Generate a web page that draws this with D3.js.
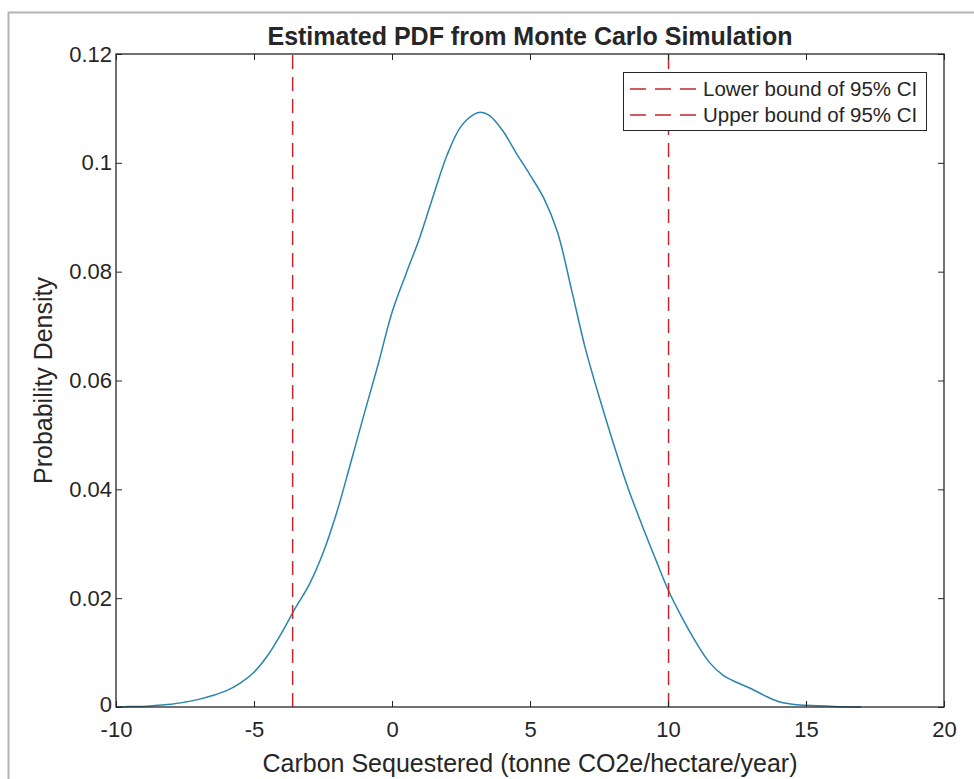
<!DOCTYPE html>
<html>
<head>
<meta charset="utf-8">
<script src="https://cdn.jsdelivr.net/npm/d3@7"></script>
<style>
  body { margin: 0; background: #fff; }
  text { font-family: "Liberation Sans", Arial, sans-serif; fill: #262626; }
</style>
</head>
<body>
<script>
// density estimate
const densityX = [-10, -9.5, -9, -8.5, -8, -7.5, -7, -6.5, -6, -5.5, -5, -4.5, -4, -3.5, -3, -2.5, -2, -1.5, -1, -0.5,
  0, 0.5, 1, 1.5, 2, 2.5, 3, 3.2, 3.5, 4, 4.5, 5, 5.5, 6, 6.5, 7, 7.5, 8, 8.5, 9, 9.5,
  10, 10.5, 11, 11.5, 12, 12.5, 13, 13.5, 14, 14.5, 15, 16, 17];
const densityY = [0, 0.0001, 0.0001, 0.0003, 0.0005, 0.0009, 0.0014, 0.0021, 0.003, 0.0044, 0.0064, 0.0095, 0.0136, 0.0182, 0.0225, 0.0283, 0.0358, 0.0448, 0.054, 0.063,
  0.0725, 0.0795, 0.0862, 0.094, 0.1015, 0.1067, 0.109, 0.1093, 0.1088, 0.106, 0.1018, 0.0978, 0.0935, 0.0872, 0.0768, 0.066, 0.0571, 0.0488, 0.041, 0.0342, 0.0278,
  0.0216, 0.0165, 0.012, 0.0082, 0.0058, 0.0045, 0.0034, 0.0021, 0.001, 0.0005, 0.0003, 0.0001, 0];

// confidence interval bounds
const ciValues = [-3.6, 10.02];
const ciLabels = ["Lower bound of 95% CI", "Upper bound of 95% CI"];

const xTicks = [-10, -5, 0, 5, 10, 15, 20];
const yTicks = [0, 0.02, 0.04, 0.06, 0.08, 0.1, 0.12];

const width = 974, height = 779;
const mLeft = 116, mRight = 944, mTop = 54, mBottom = 707;
const blue = "#2a84ad", red = "#c4262e", axisCol = "#262626";

const svg = d3.select("body").append("svg").attr("width", width).attr("height", height);

// grey frame round the figure
svg.append("rect").attr("x", 8.5).attr("y", 12.5).attr("width", 1000).attr("height", 800)
  .attr("fill", "none").attr("stroke", "#b4b4b4").attr("stroke-width", 2);

const x = d3.scaleLinear().domain([-10, 20]).range([mLeft, mRight]);
const y = d3.scaleLinear().domain([0, 0.12]).range([mBottom, mTop]);

// curve
const pts = densityX.map((d, i) => [d, densityY[i]]);
const line = d3.line().x(d => x(d[0])).y(d => y(d[1])).curve(d3.curveCatmullRom.alpha(0.5));
svg.append("path").datum(pts).attr("d", line)
  .attr("fill", "none").attr("stroke", blue).attr("stroke-width", 1.5);

// CI lines
svg.selectAll(".ci").data(ciValues).enter().append("line")
  .attr("class", "ci")
  .attr("x1", d => x(d)).attr("x2", d => x(d))
  .attr("y1", y(0)).attr("y2", y(0.12))
  .attr("stroke", red).attr("stroke-width", 1.5).attr("stroke-dasharray", "14,8");

// axes (ticks inward, box on)
const tickLen = 6;
const xAxis = svg.append("g").attr("transform", `translate(0,${mBottom})`)
  .call(d3.axisBottom(x).tickValues(xTicks).tickSize(-tickLen).tickPadding(14).tickFormat(d => String(d)));
const xAxisTop = svg.append("g").attr("transform", `translate(0,${mTop})`)
  .call(d3.axisTop(x).tickValues(xTicks).tickSize(-tickLen).tickFormat(""));
const yAxis = svg.append("g").attr("transform", `translate(${mLeft},0)`)
  .call(d3.axisLeft(y).tickValues(yTicks).tickSize(-tickLen).tickPadding(4).tickFormat(d => String(+d.toFixed(2))));
const yAxisRight = svg.append("g").attr("transform", `translate(${mRight},0)`)
  .call(d3.axisRight(y).tickValues(yTicks).tickSize(-tickLen).tickFormat(""));

[xAxis, xAxisTop, yAxis, yAxisRight].forEach(g => {
  g.selectAll(".tick line").attr("stroke", axisCol);
  g.selectAll("text").style("font-size", "22px").attr("fill", axisCol);
});
// the "0" of the y axis sits a touch higher so it clears "-10"
yAxis.selectAll(".tick text").filter(d => d === 0).attr("dy", "0.2em");
// plain box instead of d3 domain paths (they have outer ticks)
svg.selectAll(".domain").remove();
svg.append("rect").attr("x", mLeft).attr("y", mTop).attr("width", mRight - mLeft).attr("height", mBottom - mTop)
  .attr("fill", "none").attr("stroke", axisCol).attr("stroke-width", 1.3);

// titles
svg.append("text").attr("x", (mLeft + mRight) / 2).attr("y", 45).attr("text-anchor", "middle")
  .style("font-size", "25px").style("font-weight", "bold").attr("fill", "#000")
  .text("Estimated PDF from Monte Carlo Simulation");
svg.append("text").attr("x", (mLeft + mRight) / 2).attr("y", 772).attr("text-anchor", "middle")
  .style("font-size", "25px").text("Carbon Sequestered (tonne CO2e/hectare/year)");
svg.append("text").attr("transform", `translate(52,${(mTop + mBottom) / 2}) rotate(-90)`)
  .attr("text-anchor", "middle").style("font-size", "25px").text("Probability Density");

// legend
const lg = svg.append("g");
lg.append("rect").attr("x", 623.5).attr("y", 72.5).attr("width", 303).attr("height", 58)
  .attr("fill", "#fff").attr("stroke", axisCol).attr("stroke-width", 1);
ciLabels.forEach((lab, i) => {
  const yy = 89 + i * 26;
  lg.append("line").attr("x1", 630).attr("x2", 697).attr("y1", yy).attr("y2", yy)
    .attr("stroke", red).attr("stroke-width", 1.5).attr("stroke-dasharray", "16,9");
  lg.append("text").attr("x", 703).attr("y", yy + 7).style("font-size", "20.5px").text(lab);
});
</script>
</body>
</html>
